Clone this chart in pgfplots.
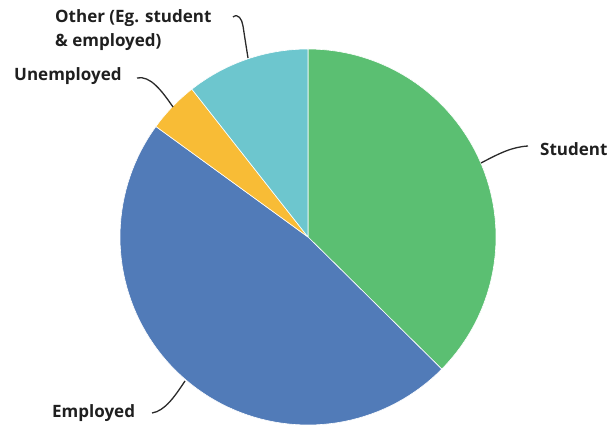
\documentclass[border=0pt]{standalone}
\usepackage{pgfplots}
\pgfplotsset{compat=1.18}
\usepackage{fontspec}
\setmainfont{Open Sans}
\definecolor{cStudent}{HTML}{5BBF72}
\definecolor{cEmployed}{HTML}{517BB8}
\definecolor{cUnemp}{HTML}{F8BC36}
\definecolor{cOther}{HTML}{6DC6CE}
\definecolor{lead}{HTML}{2A2A2A}
% shares in percent, clockwise from 12 o'clock
\def\pStudent{37.4}
\def\pEmployed{47.6}
\def\pUnemp{4.4}
\def\pOther{10.6}
\pgfmathsetmacro{\aA}{90}
\pgfmathsetmacro{\aB}{\aA-3.6*\pStudent}
\pgfmathsetmacro{\aC}{\aB-3.6*\pEmployed}
\pgfmathsetmacro{\aD}{\aC-3.6*\pUnemp}
\pgfmathsetmacro{\aE}{\aD-3.6*\pOther}
\newcommand{\slice}[3]{%
\addplot[fill=#3, draw=white, line width=0.6pt, samples at={-1,0,1,...,80,81}, variable=\t]
 ({ (\t<0 || \t>80) ? 308 : 308+188*cos(#1+(#2-#1)*\t/80) },
  { (\t<0 || \t>80) ? 194 : 194+188*sin(#1+(#2-#1)*\t/80) });
}
\begin{document}
\begin{tikzpicture}
\begin{axis}[scale only axis, width=612pt, height=431pt,
  xmin=0, xmax=612, ymin=0, ymax=431, hide axis, clip=false]
\path[draw=none] (axis cs:0,0) rectangle (axis cs:612,431);
\slice{\aA}{\aB}{cStudent}
\slice{\aB}{\aC}{cEmployed}
\slice{\aC}{\aD}{cUnemp}
\slice{\aD}{\aE}{cOther}
\begin{scope}[line width=1.3pt, draw=lead]
\draw (axis cs:481,268) .. controls (axis cs:500,278) and (axis cs:512,284) .. (axis cs:528,285);
\draw (axis cs:185,50) .. controls (axis cs:175,35) and (axis cs:165,20) .. (axis cs:152,18);
\draw (axis cs:137,353) .. controls (axis cs:150,356) and (axis cs:162,340) .. (axis cs:173,324);
\draw (axis cs:233,414) .. controls (axis cs:238,418) and (axis cs:242,412) .. (axis cs:243,405) .. controls (axis cs:245,392) .. (axis cs:248,373);
\end{scope}
\begin{scope}[every node/.style={anchor=west, inner sep=0pt, font=\fontsize{17}{20}\selectfont\bfseries, text=black!88}]
\node at (axis cs:540,282) {Student};
\node at (axis cs:52,18) {Employed};
\node at (axis cs:14,355) {Unemployed};
\node at (axis cs:55,413) {Other (Eg. student};
\node at (axis cs:55,389) {\& employed)};
\end{scope}
\end{axis}
\end{tikzpicture}
\end{document}
